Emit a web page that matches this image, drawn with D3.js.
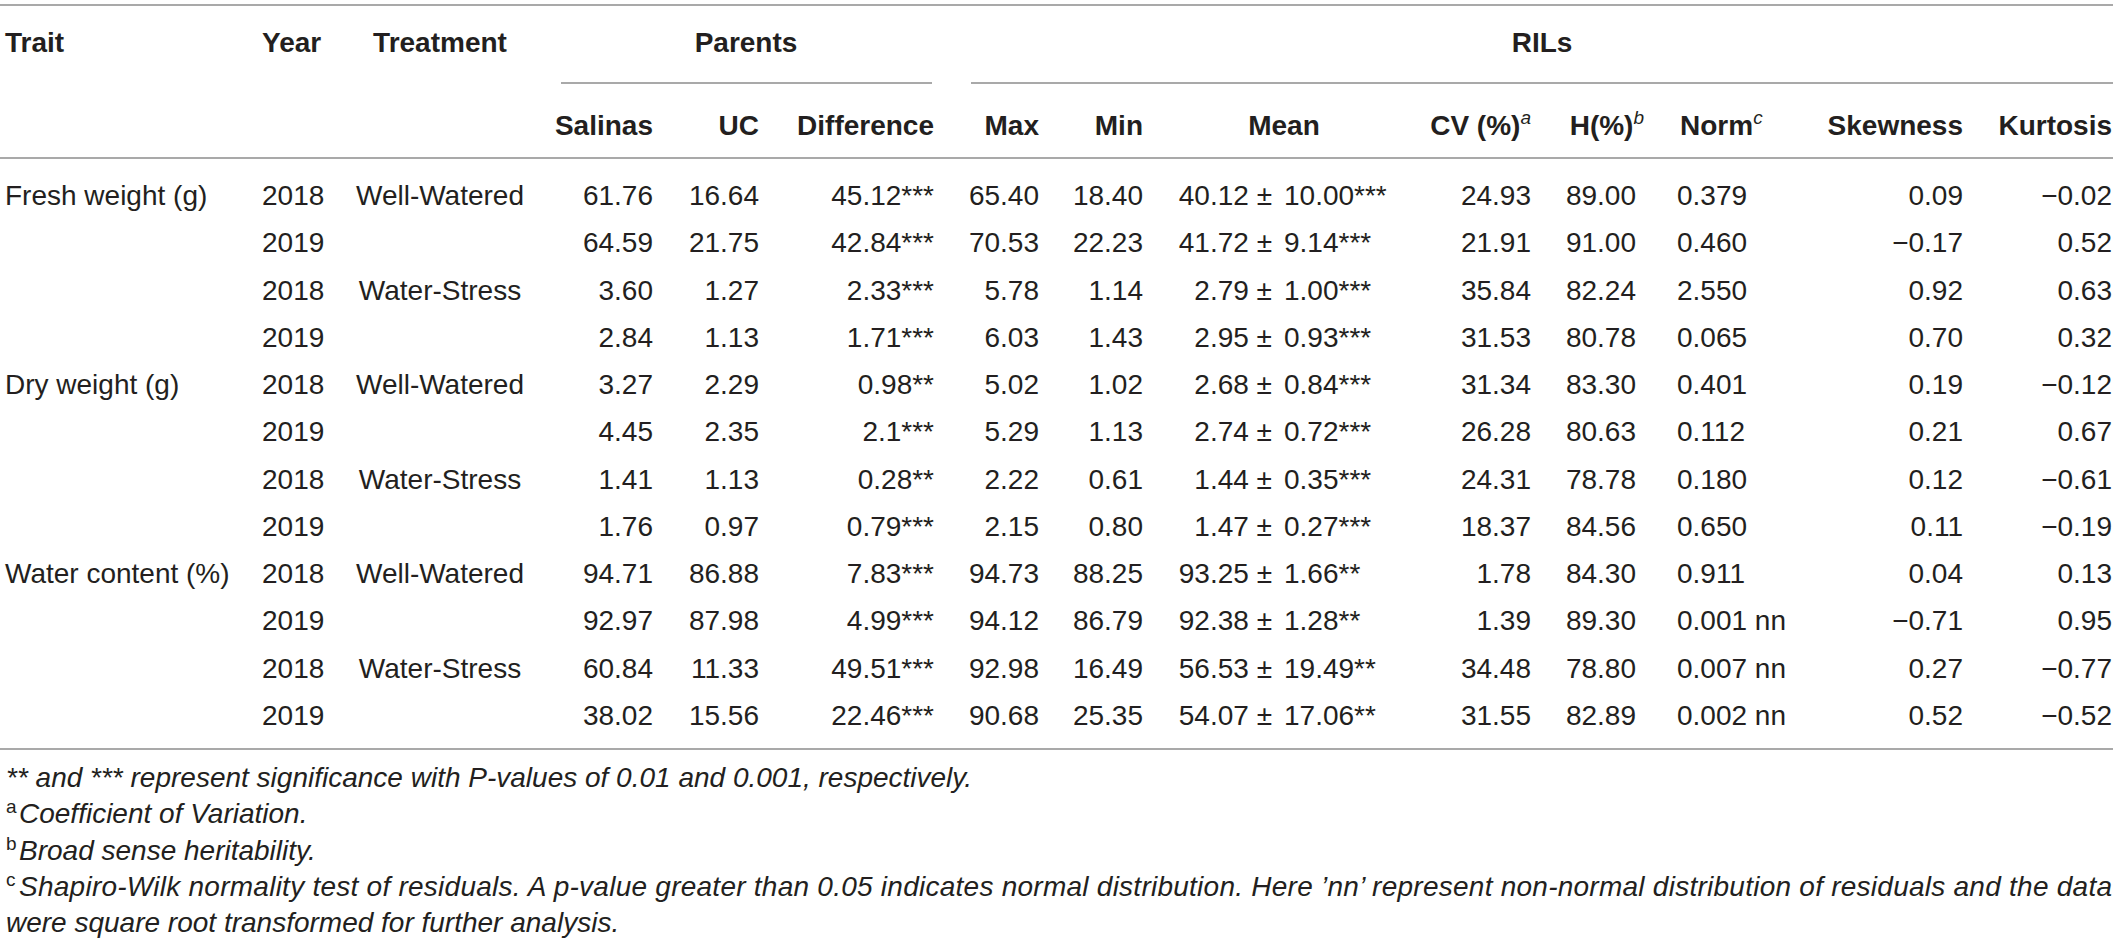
<!DOCTYPE html>
<html>
<head>
<meta charset="utf-8">
<script src="https://cdn.jsdelivr.net/npm/d3@7"></script>
<style>
  html, body { margin: 0; padding: 0; background: #fff; }
  svg text { font-family: "Liberation Sans", Arial, Helvetica, sans-serif; fill: #231f20; }
</style>
</head>
<body>
<div id="main"></div>
<script>
// table values, one entry per row
const traits = ['Fresh weight (g)', '', '', '', 'Dry weight (g)', '', '', '', 'Water content (%)', '', '', ''];
const years = ['2018', '2019', '2018', '2019', '2018', '2019', '2018', '2019', '2018', '2019', '2018', '2019'];
const treatments = ['Well-Watered', '', 'Water-Stress', '', 'Well-Watered', '', 'Water-Stress', '', 'Well-Watered', '', 'Water-Stress', ''];

const salinas = ['61.76', '64.59', '3.60', '2.84', '3.27', '4.45', '1.41', '1.76', '94.71', '92.97', '60.84', '38.02'];
const uc = ['16.64', '21.75', '1.27', '1.13', '2.29', '2.35', '1.13', '0.97', '86.88', '87.98', '11.33', '15.56'];
const difference = ['45.12***', '42.84***', '2.33***', '1.71***', '0.98**', '2.1***', '0.28**', '0.79***', '7.83***', '4.99***', '49.51***', '22.46***'];

const rilMax = ['65.40', '70.53', '5.78', '6.03', '5.02', '5.29', '2.22', '2.15', '94.73', '94.12', '92.98', '90.68'];
const rilMin = ['18.40', '22.23', '1.14', '1.43', '1.02', '1.13', '0.61', '0.80', '88.25', '86.79', '16.49', '25.35'];
const meanValues = ['40.12', '41.72', '2.79', '2.95', '2.68', '2.74', '1.44', '1.47', '93.25', '92.38', '56.53', '54.07'];
const meanSd = ['10.00***', '9.14***', '1.00***', '0.93***', '0.84***', '0.72***', '0.35***', '0.27***', '1.66**', '1.28**', '19.49**', '17.06**'];
const cv = ['24.93', '21.91', '35.84', '31.53', '31.34', '26.28', '24.31', '18.37', '1.78', '1.39', '34.48', '31.55'];
const heritability = ['89.00', '91.00', '82.24', '80.78', '83.30', '80.63', '78.78', '84.56', '84.30', '89.30', '78.80', '82.89'];
const norm = ['0.379', '0.460', '2.550', '0.065', '0.401', '0.112', '0.180', '0.650', '0.911', '0.001 nn', '0.007 nn', '0.002 nn'];
const skewness = ['0.09', '\u22120.17', '0.92', '0.70', '0.19', '0.21', '0.12', '0.11', '0.04', '\u22120.71', '0.27', '0.52'];
const kurtosis = ['\u22120.02', '0.52', '0.63', '0.32', '\u22120.12', '0.67', '\u22120.61', '\u22120.19', '0.13', '0.95', '\u22120.77', '\u22120.52'];

// header labels
const groupLabels = ['Parents', 'RILs'];
const topLabels = ['Trait', 'Year', 'Treatment'];
const subLabels = ['Salinas', 'UC', 'Difference', 'Max', 'Min', 'Mean', 'CV (%)', 'H(%)', 'Norm', 'Skewness', 'Kurtosis'];
const subMarks = ['', '', '', '', '', '', 'a', 'b', 'c', '', ''];

const footMarks = ['', 'a', 'b', 'c', ''];
const footTexts = [
  '** and *** represent significance with P-values of 0.01 and 0.001, respectively.',
  'Coefficient of Variation.',
  'Broad sense heritability.',
  'Shapiro-Wilk normality test of residuals. A p-value greater than 0.05 indicates normal distribution. Here \u2019nn\u2019 represent non-normal distribution of residuals and the data',
  'were square root transformed for further analysis.'
];

// layout
const width = 2117, height = 948;
const fontSize = 28;

const colKeys = ['trait', 'year', 'treat', 'salinas', 'uc', 'diff', 'max', 'min', 'mean', 'cv', 'h', 'norm', 'skew', 'kurt'];
const colX = d3.scaleOrdinal().domain(colKeys)
  .range([5, 262, 440, 653, 759, 934, 1039, 1143, 1272, 1531, 1636, 1677, 1963, 2112]);
const colAnchor = d3.scaleOrdinal().domain(colKeys)
  .range(['start', 'start', 'middle', 'end', 'end', 'end', 'end', 'end', 'end', 'end', 'end', 'start', 'end', 'end']);

const rowY = d3.scalePoint().domain(d3.range(years.length)).range([195, 715]);
const footY = d3.scalePoint().domain(d3.range(footTexts.length)).range([787, 932]);

const svg = d3.select('div#main').append('svg')
  .attr('width', width).attr('height', height);

// rules
const rule = (x1, x2, y) => svg.append('line')
  .attr('x1', x1).attr('x2', x2).attr('y1', y).attr('y2', y)
  .attr('stroke', '#8c8c8c').attr('stroke-width', 1.6);

rule(0, 2113, 5);
rule(561, 932, 83);
rule(971, 2113, 83);
rule(0, 2113, 158);
rule(0, 2113, 749);

// header row 1
const head = svg.append('g').attr('font-weight', 'bold').attr('font-size', fontSize);

head.selectAll('text.top').data(topLabels).join('text')
  .attr('class', 'top')
  .attr('x', (d, i) => colX(colKeys[i]))
  .attr('y', 52)
  .attr('text-anchor', (d, i) => colAnchor(colKeys[i]))
  .text(d => d);

head.selectAll('text.group').data(groupLabels).join('text')
  .attr('class', 'group')
  .attr('x', (d, i) => i === 0 ? 746 : 1542)
  .attr('y', 52)
  .attr('text-anchor', 'middle')
  .text(d => d);

// header row 2
const subKeys = colKeys.slice(3);
const subX = { mean: 1284, h: 1644, norm: 1680 };
const sub = head.selectAll('text.sub').data(subLabels).join('text')
  .attr('class', 'sub')
  .attr('x', (d, i) => subX[subKeys[i]] || colX(subKeys[i]))
  .attr('y', 135)
  .attr('text-anchor', (d, i) => subKeys[i] === 'mean' ? 'middle' : colAnchor(subKeys[i]));
sub.append('tspan').text(d => d);
sub.filter((d, i) => subMarks[i]).append('tspan')
  .attr('dy', -11).attr('font-size', 19).attr('font-style', 'italic').attr('font-weight', 'normal')
  .text(d => subMarks[subLabels.indexOf(d)]);

// body
const body = svg.append('g').attr('font-size', fontSize);
const columns = {
  trait: traits, year: years, treat: treatments, salinas: salinas, uc: uc, diff: difference,
  max: rilMax, min: rilMin, cv: cv, h: heritability, norm: norm, skew: skewness, kurt: kurtosis
};

Object.keys(columns).forEach(key => {
  body.selectAll('text.c-' + key).data(columns[key]).join('text')
    .attr('class', 'c-' + key)
    .attr('x', colX(key))
    .attr('y', (d, i) => rowY(i) + 10)
    .attr('text-anchor', colAnchor(key))
    .text(d => d);
});

// mean ± sd, aligned on the ± sign
body.selectAll('text.mean-l').data(meanValues).join('text')
  .attr('class', 'mean-l')
  .attr('x', colX('mean'))
  .attr('y', (d, i) => rowY(i) + 10)
  .attr('text-anchor', 'end')
  .text(d => d + ' \u00b1');
body.selectAll('text.mean-r').data(meanSd).join('text')
  .attr('class', 'mean-r')
  .attr('x', colX('mean') + 12)
  .attr('y', (d, i) => rowY(i) + 10)
  .text(d => d);

// footnotes
const foot = svg.append('g').attr('font-size', fontSize);
foot.selectAll('text.mark').data(footMarks).join('text')
  .attr('class', 'mark')
  .attr('x', 6)
  .attr('y', (d, i) => footY(i) - 10)
  .attr('font-size', 19)
  .text(d => d);
foot.selectAll('text.note').data(footTexts).join('text')
  .attr('class', 'note')
  .attr('x', (d, i) => footMarks[i] ? 19 : 6)
  .attr('y', (d, i) => footY(i))
  .attr('font-style', 'italic')
  .each(function (d, i) {
    if (i === 3) d3.select(this).attr('textLength', 2112 - 19).attr('lengthAdjust', 'spacing');
  })
  .text(d => d);
</script>
</body>
</html>
